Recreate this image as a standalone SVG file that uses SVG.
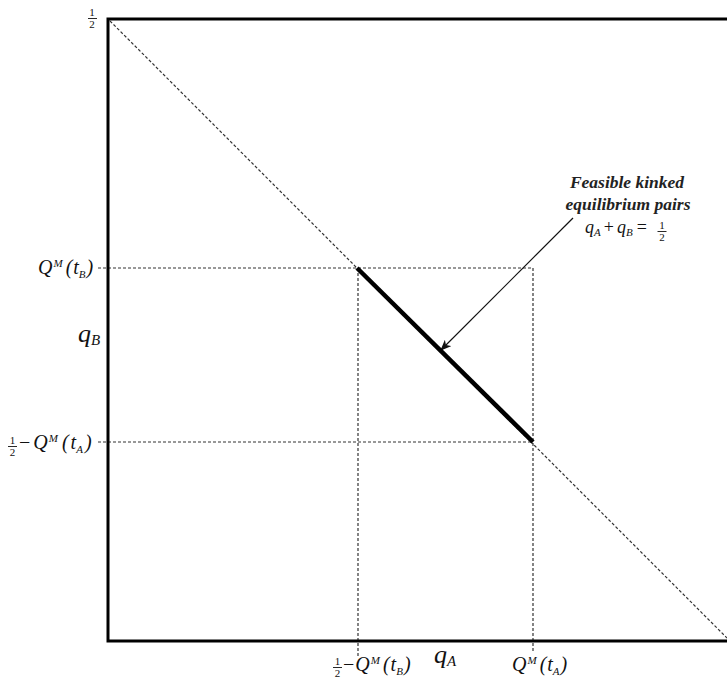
<svg xmlns="http://www.w3.org/2000/svg" width="727" height="681" viewBox="0 0 727 681">
<defs>
<style>
.t{font-family:"Liberation Serif","Times New Roman",serif;font-style:italic;fill:#111;font-size:20px}
.big{font-size:26px}
.eq{font-size:18px}
.fr{font-family:"Liberation Serif","Times New Roman",serif;font-size:11px;fill:#111;text-anchor:middle}
.dash{stroke:#333;stroke-width:1.2;stroke-dasharray:3 2;fill:none}
.sub{font-size:11px}
.sup{font-size:11px}
.bsub{font-size:15px}
.bar{stroke:#111;stroke-width:0.9}
.ann{font-family:"Liberation Serif","Times New Roman",serif;font-style:italic;font-weight:bold;font-size:17.5px;fill:#222;text-anchor:middle}
</style>
<marker id="ah" markerWidth="11" markerHeight="9" refX="10" refY="4.5" orient="auto" markerUnits="userSpaceOnUse">
<path d="M0,0 L11,4.5 L0,9 L3,4.5 Z" fill="#111"/>
</marker>
</defs>
<rect width="727" height="681" fill="#fff"/>

<g id="connectors">
<line class="dash" x1="110" y1="21" x2="727" y2="638"/>
<line class="dash" x1="98" y1="268" x2="533" y2="268"/>
<line class="dash" x1="98" y1="442" x2="533" y2="442"/>
<line class="dash" x1="358" y1="268" x2="358" y2="657"/>
<line class="dash" x1="533" y1="268" x2="533" y2="653"/>
<line x1="573" y1="218" x2="441" y2="350" stroke="#111" stroke-width="1.2" marker-end="url(#ah)"/>
</g>

<g id="axes">
<path d="M727,19 L108,19 L108,641 L727,641" fill="none" stroke="#000" stroke-width="3"/>
</g>

<g id="segment">
<line x1="357" y1="268" x2="533" y2="442" stroke="#000" stroke-width="4.5"/>
</g>

<g id="half-top">
<text class="fr" x="92" y="16">1</text>
<line class="bar" x1="88" y1="18.5" x2="97" y2="18.5"/>
<text class="fr" x="92" y="28">2</text>
</g>

<g id="label-qmtb-left">
<text class="t" x="38" y="274">Q<tspan class="sup" dy="-7" dx="1">M</tspan><tspan dy="7" dx="3">(</tspan><tspan dx="1">t</tspan><tspan class="sub" dy="4">B</tspan><tspan dy="-4" dx="1">)</tspan></text>
</g>

<g id="label-qb">
<text class="t big" x="78" y="342">q<tspan class="bsub" dy="3">B</tspan></text>
</g>

<g id="label-half-qmta-left">
<text class="fr" x="12.5" y="444">1</text>
<line class="bar" x1="8" y1="446.5" x2="17" y2="446.5"/>
<text class="fr" x="12.5" y="456">2</text>
<text class="t" x="19" y="449"><tspan font-style="normal">−</tspan><tspan dx="3">Q</tspan><tspan class="sup" dy="-7" dx="1">M</tspan><tspan dy="7" dx="4">(</tspan><tspan dx="2">t</tspan><tspan class="sub" dy="4">A</tspan><tspan dy="-4" dx="2">)</tspan></text>
</g>

<g id="label-half-qmtb-bottom">
<text class="fr" x="337.5" y="665">1</text>
<line class="bar" x1="333" y1="667.5" x2="342" y2="667.5"/>
<text class="fr" x="337.5" y="677">2</text>
<text class="t" x="343" y="671"><tspan font-style="normal">−</tspan><tspan dx="1">Q</tspan><tspan class="sup" dy="-7" dx="1">M</tspan><tspan dy="7" dx="3">(</tspan><tspan dx="1">t</tspan><tspan class="sub" dy="4">B</tspan><tspan dy="-4" dx="1">)</tspan></text>
</g>

<g id="label-qa">
<text class="t big" x="434" y="663">q<tspan class="bsub" dy="3">A</tspan></text>
</g>

<g id="label-qmta-bottom">
<text class="t" x="512" y="671">Q<tspan class="sup" dy="-7" dx="1">M</tspan><tspan dy="7" dx="3">(</tspan><tspan dx="1">t</tspan><tspan class="sub" dy="4">A</tspan><tspan dy="-4" dx="1">)</tspan></text>
</g>

<g id="annotation">
<text class="ann" x="627" y="188">Feasible kinked</text>
<text class="ann" x="628" y="210">equilibrium pairs</text>
<text class="t eq" x="585" y="233">q<tspan class="sub" dy="3">A</tspan><tspan dy="-3" font-style="normal" dx="3">+</tspan><tspan dx="3">q</tspan><tspan class="sub" dy="3">B</tspan><tspan dy="-3" font-style="normal" dx="4">=</tspan></text>
<text class="fr" x="662" y="229">1</text>
<line class="bar" x1="657.5" y1="231.5" x2="666.5" y2="231.5"/>
<text class="fr" x="662" y="241">2</text>
</g>
</svg>
